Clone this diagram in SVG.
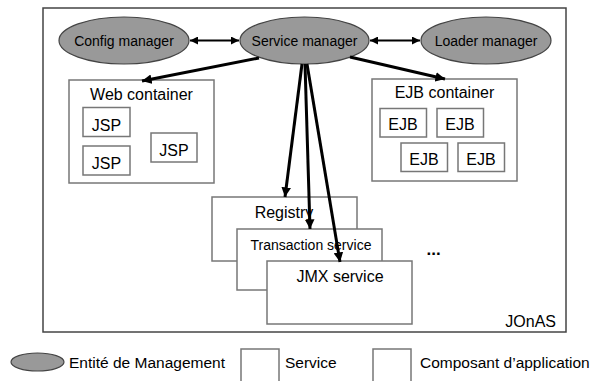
<svg xmlns="http://www.w3.org/2000/svg" width="595" height="381" viewBox="0 0 595 381">
<defs>
<marker id="ah" viewBox="0 0 10 10" refX="10" refY="5" markerWidth="3.2" markerHeight="3.2" orient="auto-start-reverse" markerUnits="strokeWidth">
<path d="M0,0 L10,5 L0,10 z" fill="#000"/>
</marker>
<marker id="ah2" viewBox="0 0 10 10" refX="10" refY="5" markerWidth="4.5" markerHeight="4" orient="auto-start-reverse" markerUnits="strokeWidth">
<path d="M0,0 L10,5 L0,10 z" fill="#000"/>
</marker>
</defs>
<style>
text{font-family:"Liberation Sans",Arial,sans-serif;fill:#000}
.mgr{fill:#999;stroke:#444;stroke-width:1.2}
.box{fill:#fff;stroke:#777;stroke-width:1.5}
.outer{fill:#fff;stroke:#444;stroke-width:1.5}
.t16{font-size:16px}
.t14{font-size:14px}
.t15{font-size:15.5px}
.c{text-anchor:middle}
.thick{stroke:#000;stroke-width:3;fill:none;marker-end:url(#ah)}
.dbl{stroke:#000;stroke-width:2;fill:none;marker-start:url(#ah2);marker-end:url(#ah2)}
</style>
<rect width="595" height="381" fill="#fff"/>
<g id="jonas">
<rect class="outer" x="43" y="8" width="523" height="324"/>
<text class="t16" x="556" y="327" text-anchor="end">JOnAS</text>
</g>
<g id="config-manager">
<ellipse class="mgr" cx="124" cy="40.5" rx="65" ry="23.5"/>
<text class="t14 c" x="124" y="46">Config manager</text>
</g>
<g id="service-manager">
<ellipse class="mgr" cx="304.5" cy="40.5" rx="64.5" ry="23.5"/>
<text class="t14 c" x="304.5" y="46">Service manager</text>
</g>
<g id="loader-manager">
<ellipse class="mgr" cx="486" cy="40.5" rx="65" ry="23.5"/>
<text class="t14 c" x="486" y="46">Loader manager</text>
</g>
<g id="web-container">
<rect class="box" x="69" y="80" width="145" height="103"/>
<text class="t16 c" x="141.5" y="100">Web container</text>
<rect class="box" x="83" y="107.5" width="47" height="29"/>
<text class="t16 c" x="106.5" y="131">JSP</text>
<rect class="box" x="83" y="146" width="47" height="29"/>
<text class="t16 c" x="106.5" y="169">JSP</text>
<rect class="box" x="151" y="133" width="46" height="29"/>
<text class="t16 c" x="174" y="156">JSP</text>
</g>
<g id="ejb-container">
<rect class="box" x="372" y="79" width="145" height="102"/>
<text class="t16 c" x="444.5" y="98">EJB container</text>
<rect class="box" x="380" y="108.5" width="46.5" height="28.5"/>
<text class="t16 c" x="403" y="130">EJB</text>
<rect class="box" x="437" y="108.5" width="46.5" height="28.5"/>
<text class="t16 c" x="460" y="130">EJB</text>
<rect class="box" x="401" y="143" width="46.5" height="28.5"/>
<text class="t16 c" x="424" y="164.5">EJB</text>
<rect class="box" x="458" y="143" width="46.5" height="28.5"/>
<text class="t16 c" x="481" y="164.5">EJB</text>
</g>
<g id="registry">
<rect class="box" x="212" y="197" width="145" height="64"/>
<text class="t16 c" x="284" y="218">Registry</text>
</g>
<g id="transaction-service">
<rect class="box" x="237" y="229" width="145" height="61"/>
<text class="t14 c" x="311" y="250">Transaction service</text>
</g>
<g id="jmx-service">
<rect class="box" x="267" y="261" width="145" height="63"/>
<text class="t16 c" x="340" y="282">JMX service</text>
</g>
<g id="more">
<text x="426.5" y="255" style="font-size:17px;font-weight:bold">...</text>
</g>
<g id="connectors">
<line class="dbl" x1="190" y1="40.5" x2="239" y2="40.5"/>
<line class="dbl" x1="370" y1="40.5" x2="420" y2="40.5"/>
<line class="thick" x1="259" y1="58" x2="142" y2="81"/>
<line class="thick" x1="350" y1="57" x2="445" y2="79"/>
<line class="thick" x1="302" y1="64" x2="285" y2="197"/>
<line class="thick" x1="305" y1="64" x2="310" y2="229"/>
<line class="thick" x1="307" y1="64" x2="340" y2="262"/>
</g>
<g id="legend">
<ellipse class="mgr" cx="37.5" cy="362" rx="26.5" ry="9"/>
<text class="t15" x="69" y="368">Entité de Management</text>
<rect class="box" x="241" y="349" width="38" height="40"/>
<text class="t15" x="285" y="368">Service</text>
<rect class="box" x="373" y="349" width="38" height="40"/>
<text class="t15" x="420" y="368">Composant d’application</text>
</g>
</svg>
